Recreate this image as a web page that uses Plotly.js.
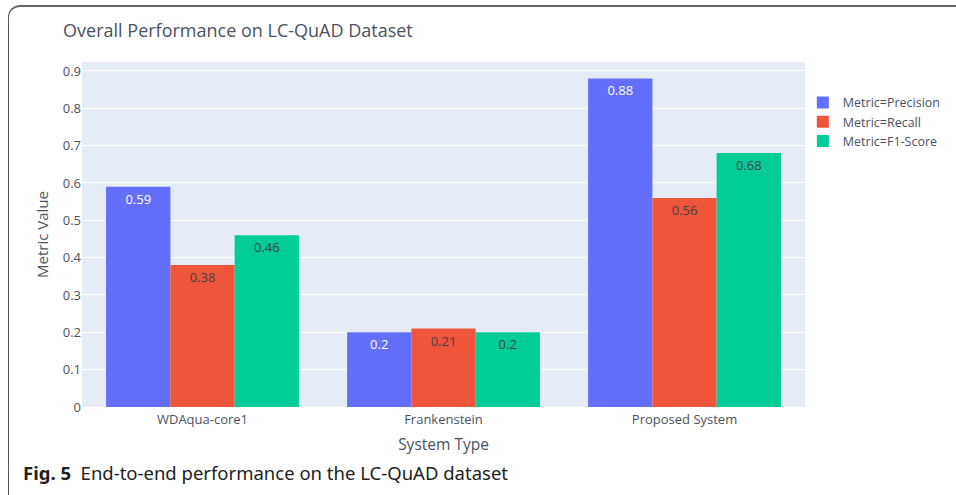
<!DOCTYPE html>
<html>
<head>
<meta charset="utf-8">
<script src="https://cdn.plot.ly/plotly-3.0.1.min.js"></script>
<style>
  html, body { margin: 0; padding: 0; background: #fff; }
  #wrap { position: relative; width: 956px; height: 495px; overflow: hidden; }
  #chart { width: 956px; height: 495px; }
  #frame { position: absolute; left: 8px; top: 5px; width: 1000px; height: 530px;
           border-left: 1.5px solid #555; border-top: 2px solid #666;
           border-top-left-radius: 12px; pointer-events: none; }
</style>
</head>
<body>
<div id="wrap">
  <div id="chart"></div>
  <div id="frame"></div>
</div>
<script>
const systems = ["WDAqua-core1", "Frankenstein", "Proposed System"];
const metrics = ["Precision", "Recall", "F1-Score"];
const precision = [0.59, 0.2, 0.88];
const recall = [0.38, 0.21, 0.56];
const f1 = [0.46, 0.2, 0.68];
const colors = ["#636efa", "#EF553B", "#00cc96"];
const seriesValues = [precision, recall, f1];

const textColor = "#4a5260";

const traces = metrics.map((m, i) => ({
  type: "bar",
  name: "Metric=" + m,
  x: systems,
  y: seriesValues[i],
  text: seriesValues[i].map(String),
  textposition: "auto",
  marker: { color: colors[i] },
  textfont: { size: 13 },
  hoverinfo: "x+y+name"
}));

const layout = {
  width: 956, height: 495,
  barmode: "group",
  bargap: 0.2,
  paper_bgcolor: "#ffffff",
  plot_bgcolor: "#e5ecf6",
  font: { family: "Open Sans, Noto Sans, sans-serif", size: 13, color: textColor },
  margin: { l: 82, r: 151, t: 62, b: 88, autoexpand: false },
  title: { text: "Overall Performance on LC-QuAD Dataset", x: 0.066, xanchor: "left", y: 0.95,
           font: { size: 18, color: textColor } },
  xaxis: { title: { text: "System Type", font: { size: 15.5 }, standoff: 12 },
           showgrid: false, linecolor: "#ffffff", ticks: "", tickfont: { size: 13 } },
  yaxis: { title: { text: "Metric Value", font: { size: 15 }, standoff: 10 }, range: [0, 0.924],
           dtick: 0.1, gridcolor: "#ffffff", zerolinecolor: "#ffffff", ticks: "", tickfont: { size: 13 } },
  legend: { x: 0.997, y: 0.925, xanchor: "left", yanchor: "top", font: { size: 12.5 },
            bgcolor: "rgba(0,0,0,0)", itemwidth: 30, tracegroupgap: 0 },
  annotations: [{
    xref: "paper", yref: "paper", x: -0.084, y: -0.19, xanchor: "left", yanchor: "middle",
    showarrow: false,
    text: "<b>Fig. 5</b>  End-to-end performance on the LC-QuAD dataset",
    font: { family: "Noto Sans, Open Sans, sans-serif", size: 18.5, color: "#222" }
  }]
};

Plotly.newPlot("chart", traces, layout, { displayModeBar: false, staticPlot: true });
</script>
</body>
</html>
